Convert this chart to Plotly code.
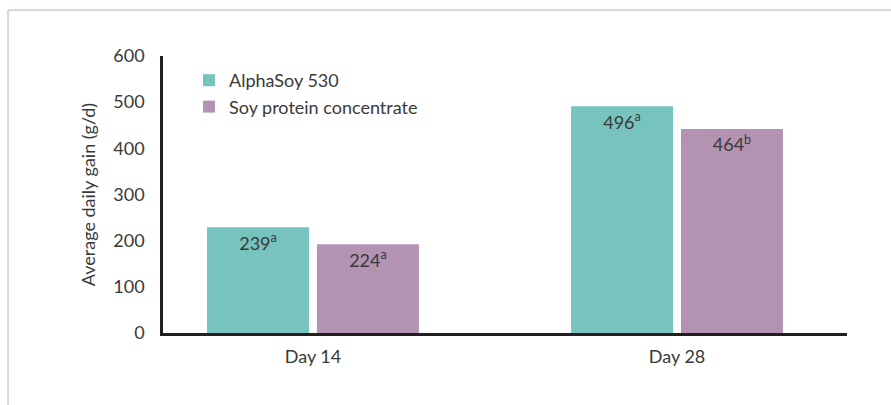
import plotly.graph_objects as go

categories = ["Day 14", "Day 28"]
series_names = ["AlphaSoy 530", "Soy protein concentrate"]
alphasoy_values = [229, 491]
spc_values = [192, 442]
alphasoy_labels = ["239<sup>a</sup>", "496<sup>a</sup>"]
spc_labels = ["224<sup>a</sup>", "464<sup>b</sup>"]
y_ticks = [0, 100, 200, 300, 400, 500, 600]

TEAL = "#76C4BD"
PURPLE = "#B492B2"
INK = "#231F20"
TEXT = "#3A3A3A"
FONT = "Lato"
WEIGHT = 400

W, H = 891, 405
L, R, T, B = 163, 44, 56, 72

def f(size=18):
    return dict(size=size, color=TEXT, family=FONT, weight=WEIGHT)

fig = go.Figure()
fig.add_trace(go.Bar(
    x=categories, y=alphasoy_values, name=series_names[0],
    marker=dict(color=TEAL, line=dict(width=0)),
    text=alphasoy_labels, textposition="inside", insidetextanchor="end",
    textangle=0, textfont=f(),
))
fig.add_trace(go.Bar(
    x=categories, y=spc_values, name=series_names[1],
    marker=dict(color=PURPLE, line=dict(width=0)),
    text=spc_labels, textposition="inside", insidetextanchor="end",
    textangle=0, textfont=f(),
))

pw = W - L - R
ph = H - T - B
def px_to_paper_x(px):
    return (px - L) / pw
def px_to_paper_y(py):
    return (H - B - py) / ph

frame_color = "#D9C3D9"
fig.add_shape(type="line", xref="paper", yref="paper",
              x0=px_to_paper_x(8), x1=px_to_paper_x(W + 5),
              y0=px_to_paper_y(10), y1=px_to_paper_y(10),
              line=dict(color=frame_color, width=1.5))
fig.add_shape(type="line", xref="paper", yref="paper",
              x0=px_to_paper_x(8), x1=px_to_paper_x(8),
              y0=px_to_paper_y(10), y1=px_to_paper_y(H + 5),
              line=dict(color=frame_color, width=1.5))

fig.update_layout(
    width=W, height=H,
    margin=dict(l=L, r=R, t=T, b=B, pad=0),
    paper_bgcolor="white", plot_bgcolor="white",
    font=f(),
    barmode="group", bargap=0.396, bargroupgap=0.0727,
    showlegend=True,
    legend=dict(x=px_to_paper_x(189), xanchor="left",
                y=px_to_paper_y(62), yanchor="top",
                bgcolor="rgba(0,0,0,0)", font=f(),
                itemwidth=30, tracegroupgap=0),
)
fig.update_xaxes(
    type="category", range=[-0.412, 1.467],
    showline=True, linecolor=INK, linewidth=2.5,
    showgrid=False, zeroline=False, ticks="", ticklabelstandoff=6,
    tickfont=f(),
)
fig.update_yaxes(
    range=[0, 600], tickvals=y_ticks,
    showline=True, linecolor=INK, linewidth=2.5,
    showgrid=False, zeroline=False, ticks="", ticklabelstandoff=12,
    tickfont=f(),
    title=dict(text="Average daily gain (g/d)", standoff=14, font=f()),
)

fig.write_html("out.html")
